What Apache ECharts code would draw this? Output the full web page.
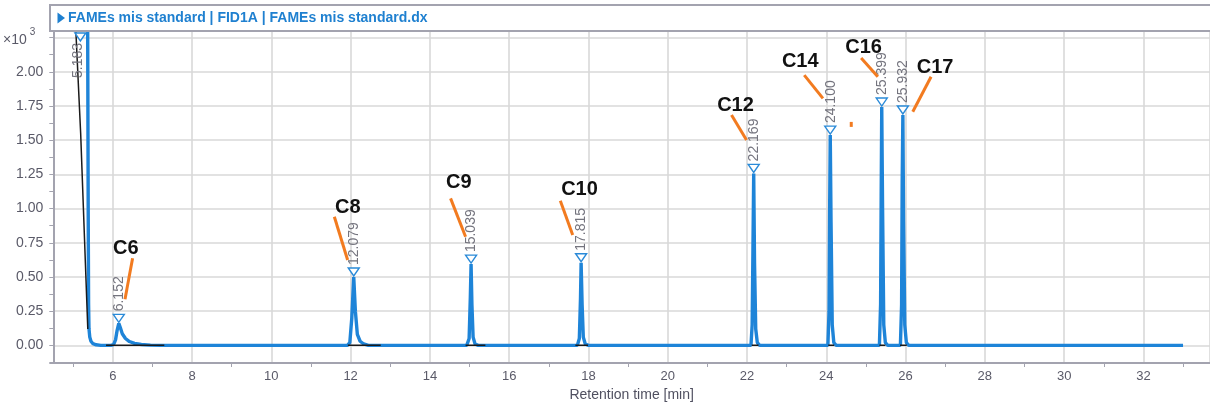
<!DOCTYPE html>
<html>
<head>
<meta charset="utf-8">
<script src="https://cdn.jsdelivr.net/npm/echarts@6/dist/echarts.min.js"></script>
<style>
  html, body { margin: 0; padding: 0; background: #ffffff; }
  #chart { width: 1210px; height: 407px; }
</style>
</head>
<body>
<div id="chart"></div>
<script>
// FID1A signal (x10^3), retention time in minutes
const traceTime = [
  5.27, 5.31, 5.36, 5.38, 5.39, 5.40, 5.42, 5.45, 5.50, 5.58, 5.70,
  5.95, 6.02, 6.07, 6.11, 6.152, 6.19, 6.24, 6.32, 6.42, 6.55, 6.72, 6.95, 7.20,
  11.92, 11.98, 12.03, 12.079, 12.12, 12.17, 12.24, 12.33, 12.45,
  14.93, 14.99, 15.02, 15.039, 15.06, 15.09, 15.14, 15.22,
  17.72, 17.77, 17.80, 17.815, 17.84, 17.87, 17.92, 18.00,
  22.10, 22.13, 22.15, 22.169, 22.19, 22.22, 22.26, 22.32,
  24.04, 24.07, 24.085, 24.100, 24.12, 24.15, 24.19, 24.25,
  25.34, 25.37, 25.385, 25.399, 25.42, 25.45, 25.49, 25.55,
  25.87, 25.90, 25.915, 25.932, 25.95, 25.98, 26.02, 26.08,
  26.86, 26.90, 26.95,
  33.00
];
const traceSignal = [
  3.0, 4.5, 3.0, 1.0, 0.30, 0.12, 0.06, 0.03, 0.012, 0.004, 0.0,
  0.0, 0.005, 0.04, 0.11, 0.161, 0.13, 0.085, 0.05, 0.028, 0.014, 0.006, 0.002, 0.0,
  0.0, 0.02, 0.20, 0.50, 0.25, 0.08, 0.03, 0.01, 0.0,
  0.0, 0.05, 0.35, 0.594, 0.30, 0.06, 0.01, 0.0,
  0.0, 0.05, 0.35, 0.604, 0.30, 0.06, 0.01, 0.0,
  0.0, 0.15, 0.70, 1.257, 0.60, 0.12, 0.02, 0.0,
  0.0, 0.25, 1.00, 1.537, 0.90, 0.15, 0.02, 0.0,
  0.0, 0.30, 1.10, 1.742, 1.00, 0.15, 0.02, 0.0,
  0.0, 0.30, 1.20, 1.684, 0.90, 0.15, 0.02, 0.0,
  0.0, 0.008, 0.0,
  0.0
];

// solvent front of the reference trace
const solventTime = [5.07, 5.19, 5.37];
const solventSignal = [2.29, 1.55, 0.12];

// integration baselines (start / end, min)
const baselineStart = [5.83, 11.93, 14.90, 17.67, 22.12, 24.05, 25.34, 25.86];
const baselineEnd   = [7.30, 12.76, 15.40, 17.99, 22.29, 24.20, 25.49, 26.03];

// detected peaks
const peakNames   = ['', 'C6', 'C8', 'C9', 'C10', 'C12', 'C14', 'C16', 'C17'];
const peakTimes   = [5.183, 6.152, 12.079, 15.039, 17.815, 22.169, 24.100, 25.399, 25.932];
const peakHeights = [4.5, 0.161, 0.50, 0.594, 0.604, 1.257, 1.537, 1.742, 1.684];

// hand-drawn callouts: pixel offsets from each peak apex
const callouts = {
  C6:  { text: [7, -75],      line: [[13.8, -65], [6.2, -24]] },
  C8:  { text: [-6, -69.4],   line: [[-19.4, -60.2], [-6.1, -16.9]] },
  C9:  { text: [-12.3, -81.5], line: [[-20.5, -65.7], [-5.5, -27.3]] },
  C10: { text: [-1.6, -73.2], line: [[-20.8, -62], [-8.4, -27.7]] },
  C12: { text: [-18.2, -67.8], line: [[-22.2, -58.3], [-7.2, -33.3]] },
  C14: { text: [-30, -73.5],  line: [[-26, -60], [-7.3, -36.7]], dot: [21, -10.7] },
  C16: { text: [-18.1, -59.5], line: [[-20.6, -49], [-3.9, -30.3]] },
  C17: { text: [32.2, -47.4], line: [[28.2, -38.2], [9.9, -3.2]] }
};

const FONT = '"Liberation Sans", Arial, sans-serif';
const BLUE = '#1e84d8';
const AXIS_GREY = '#a3a3af';
const LABEL_GREY = '#5a5a68';
const ORANGE = '#f27b20';

const chart = echarts.init(document.getElementById('chart'), null, { renderer: 'canvas' });

const traceData = traceTime.map((t, i) => [t, traceSignal[i]]);
const blackSegments = [
  { coords: solventTime.map((t, i) => [t, solventSignal[i]]) }
].concat(baselineStart.map((s, i) => ({ coords: [[s, 0], [baselineEnd[i], 0]] })));

function renderPeak(params, api) {
  const i = api.value(2);
  const name = peakNames[i];
  const pt = api.coord([api.value(0), api.value(1)]);
  const cs = params.coordSys;
  const px = pt[0];
  const offScale = pt[1] < cs.y;
  const tipY = offScale ? cs.y + 10 : pt[1] - 1;
  const children = [];

  children.push({
    type: 'polygon',
    shape: { points: [[px - 5.5, tipY - 8], [px + 5.5, tipY - 8], [px, tipY]] },
    style: { fill: '#ffffff', stroke: '#2a8ad8', lineWidth: 1.4 }
  });

  const rtText = peakTimes[i].toFixed(3);
  children.push({
    type: 'text',
    x: offScale ? px - 2 : px + 0.5,
    y: offScale ? cs.y + 47 : tipY - 11,
    rotation: Math.PI / 2,
    style: {
      text: rtText,
      fill: '#74747e',
      font: '14px ' + FONT,
      align: 'left',
      verticalAlign: 'middle'
    }
  });

  const c = callouts[name];
  if (c) {
    const py = pt[1];
    children.push({
      type: 'line',
      shape: {
        x1: px + c.line[0][0], y1: py + c.line[0][1],
        x2: px + c.line[1][0], y2: py + c.line[1][1]
      },
      style: { stroke: ORANGE, lineWidth: 3 }
    });
    if (c.dot) {
      children.push({
        type: 'rect',
        shape: { x: px + c.dot[0] - 1.5, y: py + c.dot[1] - 2.5, width: 3, height: 5 },
        style: { fill: ORANGE }
      });
    }
    children.push({
      type: 'text',
      x: px + c.text[0],
      y: py + c.text[1],
      style: {
        text: name,
        fill: '#111111',
        font: 'bold 20px ' + FONT,
        align: 'center',
        verticalAlign: 'middle'
      }
    });
  }
  return { type: 'group', children: children };
}

const option = {
  animation: false,
  backgroundColor: '#ffffff',
  grid: { left: 50, right: 0, top: 31, bottom: 44, containLabel: false },
  xAxis: {
    type: 'value',
    min: 4.5,
    max: 33.68,
    minInterval: 2,
    maxInterval: 2,
    splitNumber: 14,
    name: 'Retention time [min]',
    nameLocation: 'middle',
    nameGap: 24,
    nameTextStyle: { color: '#505060', fontSize: 14, fontFamily: FONT },
    axisLine: { show: true, onZero: false, lineStyle: { color: AXIS_GREY, width: 2 } },
    axisTick: { show: false },
    minorTick: { show: true, splitNumber: 2, length: 4, lineStyle: { color: AXIS_GREY, width: 1 } },
    axisLabel: { color: LABEL_GREY, fontSize: 13, fontFamily: FONT, margin: 7, showMinLabel: false, showMaxLabel: false },
    splitLine: { show: true, lineStyle: { color: '#d9d9d9', width: 1.6 } }
  },
  yAxis: {
    type: 'value',
    min: -0.129,
    max: 2.298,
    minInterval: 0.25,
    maxInterval: 0.25,
    splitNumber: 10,
    axisLine: { show: true, onZero: false, lineStyle: { color: AXIS_GREY, width: 2 } },
    axisTick: { show: true, length: 4, lineStyle: { color: AXIS_GREY, width: 1 } },
    minorTick: { show: true, splitNumber: 2, length: 4, lineStyle: { color: AXIS_GREY, width: 1 } },
    axisLabel: {
      color: LABEL_GREY,
      fontSize: 14,
      fontFamily: FONT,
      margin: 10,
      showMinLabel: false,
      showMaxLabel: false,
      formatter: function (v) {
        if (Math.abs(v - 2.25) < 1e-6) return '{u|×10}{p|3}';
        return v.toFixed(2);
      },
      rich: {
        u: { fontSize: 14, fontFamily: FONT, color: LABEL_GREY, padding: [6, 0, 0, 0] },
        p: { fontSize: 10, fontFamily: FONT, color: LABEL_GREY, verticalAlign: 'top', padding: [0, 8, 0, 3] }
      }
    },
    splitLine: { show: true, lineStyle: { color: '#d9d9d9', width: 1.6 } }
  },
  series: [
    {
      type: 'line',
      data: traceData,
      showSymbol: false,
      symbol: 'none',
      clip: true,
      lineStyle: { color: BLUE, width: 3.4 },
      z: 2
    },
    {
      type: 'lines',
      coordinateSystem: 'cartesian2d',
      polyline: true,
      data: blackSegments,
      lineStyle: { color: '#1a1a1a', width: 1.5, opacity: 1 },
      z: 3
    },
    {
      type: 'custom',
      data: peakTimes.map((t, i) => [t, peakHeights[i], i]),
      encode: { x: 0, y: 1 },
      clip: false,
      renderItem: renderPeak,
      z: 5
    }
  ],
  graphic: [
    {
      type: 'rect',
      shape: { x: 50, y: 5, width: 1180, height: 26 },
      style: { fill: '#ffffff', stroke: AXIS_GREY, lineWidth: 2 },
      z: 20
    },
    {
      type: 'polygon',
      shape: { points: [[57.5, 12.5], [57.5, 23.5], [65, 18]] },
      style: { fill: '#1f80d0' },
      z: 21
    },
    {
      type: 'text',
      x: 68,
      y: 18.5,
      style: {
        text: 'FAMEs mis standard | FID1A | FAMEs mis standard.dx',
        font: 'bold 14px ' + FONT,
        fill: '#1f80d0',
        verticalAlign: 'middle'
      },
      z: 21
    }
  ]
};

chart.setOption(option);
</script>
</body>
</html>
